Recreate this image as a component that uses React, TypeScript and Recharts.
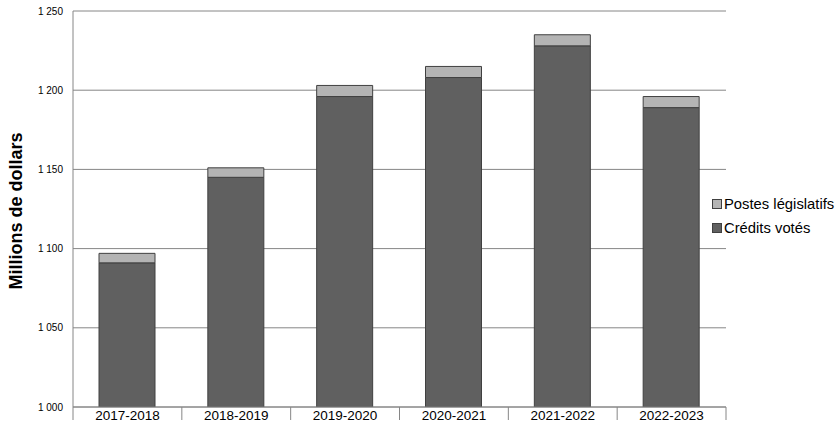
import React from "react";
import { BarChart, Bar, XAxis, YAxis, CartesianGrid, Legend } from "recharts";

const years = ["2017-2018", "2018-2019", "2019-2020", "2020-2021", "2021-2022", "2022-2023"];
const creditsVotes = [1091, 1145, 1196, 1208, 1228, 1189];
const postesLegislatifs = [6, 6, 7, 7, 7, 7];
const yTicks = [1000, 1050, 1100, 1150, 1200, 1250];

const data = years.map((year, i) => ({
  year,
  votes: creditsVotes[i],
  postes: postesLegislatifs[i],
}));

const W = 838;
const H = 428;
const LEFT = 73;
const RIGHT = 112;
const band = (W - LEFT - RIGHT) / years.length;
const FONT = "Liberation Sans, Arial, sans-serif";

const fmt = (v: number) => `${Math.floor(v / 1000)} ${String(v % 1000).padStart(3, "0")}`;

const XTick = (props: any) => {
  const { x, y, payload, index } = props;
  return (
    <g>
      <line x1={x - band / 2} x2={x - band / 2} y1={y} y2={y + 13} stroke="#868686" />
      {index === years.length - 1 && (
        <line x1={x + band / 2} x2={x + band / 2} y1={y} y2={y + 13} stroke="#868686" />
      )}
      <text x={x} y={y + 13} textAnchor="middle" fontSize={13.5} fill="#000" fontFamily={FONT}>
        {payload.value}
      </text>
    </g>
  );
};

const YTick = (props: any) => {
  const { y, payload } = props;
  return (
    <text x={63} y={y + 3.5} textAnchor="end" fontSize={10} fill="#000" fontFamily={FONT}>
      {fmt(payload.value)}
    </text>
  );
};

const legendItems = [
  { label: "Postes législatifs", color: "#b4b4b4" },
  { label: "Crédits votés", color: "#606060" },
];

const LegendContent = () => (
  <div style={{ fontFamily: FONT, fontSize: 14.8, color: "#000" }}>
    {legendItems.map((it) => (
      <div key={it.label} style={{ display: "flex", alignItems: "center", height: 24, whiteSpace: "nowrap" }}>
        <span
          style={{
            display: "inline-block",
            width: 8,
            height: 8,
            background: it.color,
            border: "1px solid #404040",
            marginRight: 2,
          }}
        />
        {it.label}
      </div>
    ))}
  </div>
);

export default function App() {
  return (
    <div style={{ position: "absolute", left: 0, top: 0, width: W, height: H, background: "#fff" }}>
      <BarChart width={W} height={H} data={data} margin={{ top: 11, right: RIGHT, left: 0, bottom: 0 }} barSize={56}>
        <CartesianGrid vertical={false} stroke="#868686" />
        <XAxis
          dataKey="year"
          height={21}
          tickSize={0}
          tickMargin={0}
          tickLine={false}
          axisLine={{ stroke: "#868686" }}
          tick={<XTick />}
          interval={0}
        />
        <YAxis
          width={LEFT}
          domain={[1000, 1250]}
          ticks={yTicks}
          allowDataOverflow
          tickLine={false}
          axisLine={{ stroke: "#868686" }}
          tick={<YTick />}
          label={{
            value: "Millions de dollars",
            angle: -90,
            position: "insideLeft",
            dx: 11,
            dy: 2,
            style: { textAnchor: "middle", fontSize: 18, fontWeight: "bold", fill: "#000", fontFamily: FONT },
          }}
        />
        <Legend
          content={<LegendContent />}
          layout="horizontal"
          verticalAlign="middle"
          align="center"
          wrapperStyle={{ position: "absolute", left: 712, top: 192, width: 130 }}
        />
        <Bar dataKey="votes" stackId="a" fill="#606060" stroke="#404040" strokeWidth={1} isAnimationActive={false} />
        <Bar dataKey="postes" stackId="a" fill="#b4b4b4" stroke="#404040" strokeWidth={1} isAnimationActive={false} />
      </BarChart>
    </div>
  );
}
